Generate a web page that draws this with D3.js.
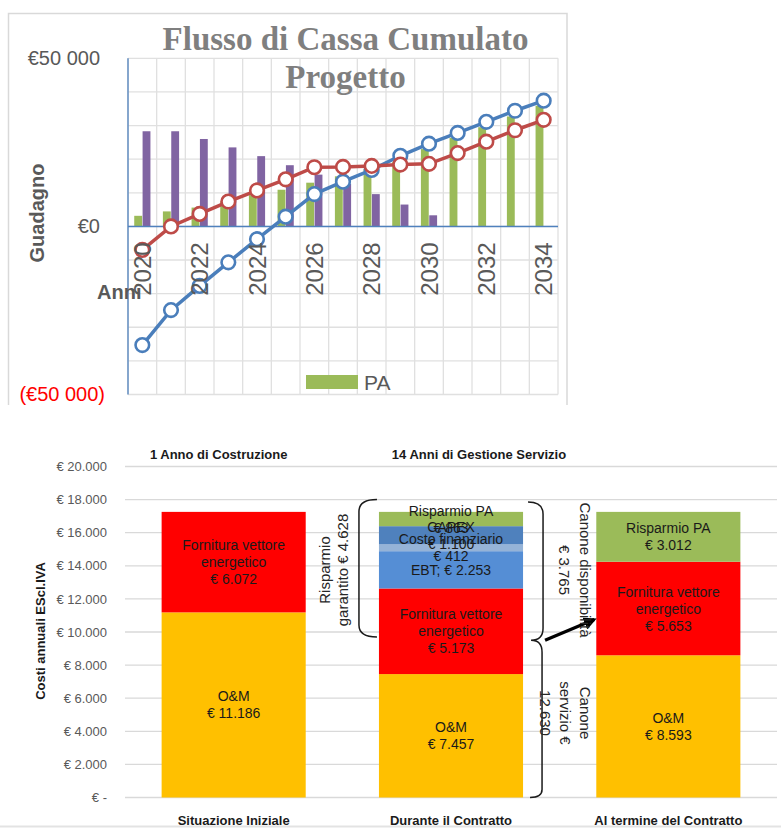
<!DOCTYPE html>
<html>
<head>
<meta charset="utf-8">
<script src="https://cdn.jsdelivr.net/npm/d3@7"></script>
<style>
  body { margin: 0; background: #fff; }
  svg text { font-family: "Liberation Sans", Arial, sans-serif; }
</style>
</head>
<body>
<svg id="chart" width="781" height="828"></svg>
<script>
// ---------- top chart data (cash flow) ----------
var years = [2020, 2021, 2022, 2023, 2024, 2025, 2026, 2027, 2028, 2029, 2030, 2031, 2032, 2033, 2034];
var paBars = [3150, 4460, 5600, 7400, 9300, 10900, 13000, 14900, 17000, 19200, 23000, 26300, 29500, 32700, 35900];
var escoBars = [28300, 28300, 26000, 23500, 20900, 18200, 15400, 12700, 9600, 6500, 3300, 0, 0, 0, 0];
var cumBlue = [-35300, -24900, -17700, -10700, -3800, 2900, 9600, 13300, 16800, 21000, 24600, 27800, 31100, 34400, 37400];
var cumRed = [-7000, 0, 3700, 7400, 10700, 14000, 17600, 17700, 18000, 18400, 18600, 21800, 25200, 28600, 31700];
var cashTicks = [-50000, 0, 50000];
var yearTicks = [2020, 2022, 2024, 2026, 2028, 2030, 2032, 2034];

// ---------- bottom chart data (annual costs) ----------
var costCats = ["Situazione Iniziale", "Durante il Contratto", "Al termine del Contratto"];
var omCost = [11186, 7457, 8593];
var fornituraCost = [6072, 5173, 5653];
var ebtCost = [0, 2253, 0];
var costoFinCost = [0, 412, 0];
var capexCost = [0, 1100, 0];
var risparmioPA = [0, 863, 3012];
var costTicks = [0, 2000, 4000, 6000, 8000, 10000, 12000, 14000, 16000, 18000, 20000];
var phaseLabels = ["1 Anno di Costruzione", "14 Anni di Gestione Servizio"];

var svg = d3.select("#chart");

var itFmt = d3.formatLocale({decimal: ",", thousands: ".", grouping: [3], currency: ["€ ", ""]});
var spFmt = d3.formatLocale({decimal: ",", thousands: "\u00a0", grouping: [3], currency: ["€", ""]});
var eur = itFmt.format("$,.0f");
var eurSp = spFmt.format("$,.0f");

//===================== TOP CHART =====================
var box = {left: 128, right: 558, top: 58.3, bottom: 394.5};

var x = d3.scaleBand().domain(years).range([box.left, box.right]).padding(0);
var x1 = d3.scaleBand().domain(["pa", "esco"]).range([x.bandwidth() * 0.2, x.bandwidth() * 0.8]).padding(0.06);
var y = d3.scaleLinear().domain([-50000, 50000]).range([box.bottom, box.top]);

// outer frame (no bottom edge, image is cut)
svg.append("path")
  .attr("d", "M8.5,405 V13.5 H567 V405")
  .attr("fill", "none")
  .attr("stroke", "#d9d9d9")
  .attr("stroke-width", 1.5);

var grid = svg.append("g").attr("class", "grid");
grid.selectAll(".hgrid")
  .data(d3.range(-50000, 50001, 10000))
  .enter().append("line")
    .attr("x1", box.left).attr("x2", box.right)
    .attr("y1", function(d) { return y(d); })
    .attr("y2", function(d) { return y(d); })
    .attr("stroke", "#e0e0e0").attr("stroke-width", 1.3);
grid.selectAll(".vgrid")
  .data(years.map(function(d) { return x(d); }).concat([box.right]))
  .enter().append("line")
    .attr("x1", function(d) { return d; }).attr("x2", function(d) { return d; })
    .attr("y1", box.top).attr("y2", box.bottom)
    .attr("stroke", "#e0e0e0").attr("stroke-width", 1.3);

// title
var title = svg.append("text")
  .attr("text-anchor", "middle")
  .style("font-family", "'Liberation Serif', 'DejaVu Serif', serif")
  .style("font-weight", "bold")
  .style("font-size", "33px")
  .attr("fill", "#7f7f7f");
title.append("tspan").attr("x", 345.5).attr("y", 49.5).text("Flusso di Cassa Cumulato");
title.append("tspan").attr("x", 345.5).attr("y", 87.5).text("Progetto");

// bars
var barG = svg.append("g");
barG.selectAll(".pa")
  .data(years)
  .enter().append("rect")
    .attr("x", function(d) { return x(d) + x1("pa"); })
    .attr("width", x1.bandwidth())
    .attr("y", function(d, i) { return y(paBars[i]); })
    .attr("height", function(d, i) { return y(0) - y(paBars[i]); })
    .attr("fill", "#9bbb59");
barG.selectAll(".esco")
  .data(years)
  .enter().append("rect")
    .attr("x", function(d) { return x(d) + x1("esco"); })
    .attr("width", x1.bandwidth())
    .attr("y", function(d, i) { return y(escoBars[i]); })
    .attr("height", function(d, i) { return y(0) - y(escoBars[i]); })
    .attr("fill", "#8064a2");

// axis lines
svg.append("line")
  .attr("x1", box.left).attr("x2", box.left)
  .attr("y1", box.top).attr("y2", box.bottom)
  .attr("stroke", "#4f81bd").attr("stroke-width", 1.3);
svg.append("line")
  .attr("x1", box.left).attr("x2", box.right)
  .attr("y1", y(0)).attr("y2", y(0))
  .attr("stroke", "#4f81bd").attr("stroke-width", 1.5);

// cumulative lines
function drawLine(vals, color) {
  var pts = years.map(function(d, i) { return [x(d) + x.bandwidth() / 2, y(vals[i])]; });
  svg.append("path")
    .attr("d", d3.line()(pts))
    .attr("fill", "none")
    .attr("stroke", color)
    .attr("stroke-width", 3.5);
  svg.append("g").selectAll("circle")
    .data(pts)
    .enter().append("circle")
      .attr("cx", function(d) { return d[0]; })
      .attr("cy", function(d) { return d[1]; })
      .attr("r", 6.8)
      .attr("fill", "#fff")
      .attr("stroke", color)
      .attr("stroke-width", 2.6);
}
drawLine(cumBlue, "#4a7ebb");
drawLine(cumRed, "#be4b48");

// y axis labels
var yAxis = svg.append("g")
  .attr("transform", "translate(" + box.left + ",0)")
  .call(d3.axisLeft(y).tickValues(cashTicks).tickSize(0).tickPadding(28)
    .tickFormat(function(d) { return d < 0 ? "(" + eurSp(-d) + ")" : eurSp(d); }));
yAxis.select(".domain").remove();
yAxis.selectAll("text")
  .style("font-size", "20px")
  .attr("fill", function(d) { return d < 0 ? "#ff0000" : "#595959"; })
  .attr("dx", function(d) { return d < 0 ? 5 : 0; });

// x axis labels (rotated)
var xAxis = svg.append("g")
  .attr("transform", "translate(0," + y(0) + ")")
  .call(d3.axisBottom(x).tickValues(yearTicks).tickSize(0));
xAxis.select(".domain").remove();
xAxis.selectAll("text")
  .style("font-size", "24px")
  .attr("fill", "#595959")
  .attr("transform", "rotate(-90)")
  .attr("x", -16)
  .attr("y", 0)
  .attr("dy", "0.36em")
  .style("text-anchor", "end");

// axis titles
svg.append("text")
  .attr("transform", "translate(44,213) rotate(-90)")
  .attr("text-anchor", "middle")
  .style("font-size", "20px").style("font-weight", "bold")
  .attr("fill", "#595959")
  .text("Guadagno");
svg.append("text")
  .attr("x", 97).attr("y", 298.5)
  .style("font-size", "20px").style("font-weight", "bold")
  .attr("fill", "#595959")
  .text("Anni");

// legend (partially visible)
svg.append("rect").attr("x", 306).attr("y", 375).attr("width", 52).attr("height", 14).attr("fill", "#9bbb59");
svg.append("text").attr("x", 364).attr("y", 390)
  .style("font-size", "21px").attr("fill", "#595959").text("PA");

//===================== BOTTOM CHART =====================
var bot = {left: 125, right: 777, top: 466.5, bottom: 797.5};

var xb = d3.scaleBand().domain(costCats).range([bot.left, bot.right])
  .paddingInner(0.337).paddingOuter(0.1685);
var yc = d3.scaleLinear().domain([0, 20000]).range([bot.bottom, bot.top]);

svg.append("g").selectAll("line")
  .data(costTicks)
  .enter().append("line")
    .attr("x1", bot.left).attr("x2", bot.right)
    .attr("y1", function(d) { return yc(d); })
    .attr("y2", function(d) { return yc(d); })
    .attr("stroke", "#d9d9d9").attr("stroke-width", 1.3);

var yAxisB = svg.append("g")
  .attr("transform", "translate(107,0)")
  .call(d3.axisLeft(yc).tickValues(costTicks).tickSize(0).tickPadding(0)
    .tickFormat(function(d) { return d === 0 ? "€ -" : eur(d); }));
yAxisB.select(".domain").remove();
yAxisB.selectAll("text").style("font-size", "13px").attr("fill", "#595959");

var segs = [
  {key: "om", vals: omCost, color: "#ffc000", label: function(v) { return ["O&M", eur(v)]; }},
  {key: "forn", vals: fornituraCost, color: "#ff0000", label: function(v) { return ["Fornitura vettore", "energetico", eur(v)]; }},
  {key: "ebt", vals: ebtCost, color: "#558ed5", label: function(v) { return ["EBT; " + eur(v)]; }},
  {key: "cf", vals: costoFinCost, color: "#95b3d7", label: function(v) { return ["Costo finanziario", eur(v)]; }},
  {key: "capex", vals: capexCost, color: "#4f81bd", label: function(v) { return ["CAPEX", eur(v)]; }},
  {key: "rpa", vals: risparmioPA, color: "#9bbb59", label: function(v) { return ["Risparmio PA", eur(v)]; }}
];

var rows = costCats.map(function(c, i) {
  var r = {cat: c};
  segs.forEach(function(s) { r[s.key] = s.vals[i]; });
  return r;
});
var stacked = d3.stack().keys(segs.map(function(s) { return s.key; }))(rows);

var segG = svg.append("g");
stacked.forEach(function(layer, li) {
  segG.append("g").selectAll("rect")
    .data(layer)
    .enter().append("rect")
      .attr("x", function(d) { return xb(d.data.cat); })
      .attr("width", xb.bandwidth())
      .attr("y", function(d) { return yc(d[1]); })
      .attr("height", function(d) { return yc(d[0]) - yc(d[1]); })
      .attr("fill", segs[li].color);
});

// segment labels
var lblG = svg.append("g");
stacked.forEach(function(layer, li) {
  layer.forEach(function(d) {
    var v = d[1] - d[0];
    if (v <= 0) return;
    var lines = segs[li].label(v);
    var cy = (yc(d[0]) + yc(d[1])) / 2;
    var t = lblG.append("text")
      .attr("text-anchor", "middle")
      .style("font-size", "14px")
      .attr("fill", "#1a1a1a");
    lines.forEach(function(l, k) {
      t.append("tspan")
        .attr("x", xb(d.data.cat) + xb.bandwidth() / 2)
        .attr("y", cy + (k - (lines.length - 1) / 2) * 17 + 5)
        .text(l);
    });
  });
});

// phase headers
svg.append("text")
  .attr("x", xb(costCats[0]) + xb.bandwidth() / 2 - 15).attr("y", 459)
  .attr("text-anchor", "middle")
  .style("font-size", "13px").style("font-weight", "bold").attr("fill", "#1a1a1a")
  .text(phaseLabels[0]);
svg.append("text")
  .attr("x", xb(costCats[1]) + xb.bandwidth() / 2 + 28).attr("y", 459)
  .attr("text-anchor", "middle")
  .style("font-size", "13px").style("font-weight", "bold").attr("fill", "#1a1a1a")
  .text(phaseLabels[1]);

// category labels
svg.append("g").selectAll("text")
  .data(costCats)
  .enter().append("text")
    .attr("x", function(d) { return xb(d) + xb.bandwidth() / 2; })
    .attr("y", 825)
    .attr("text-anchor", "middle")
    .style("font-size", "13px").style("font-weight", "bold").attr("fill", "#1a1a1a")
    .text(function(d) { return d; });

// y title
svg.append("text")
  .attr("transform", "translate(45,631) rotate(-90)")
  .attr("text-anchor", "middle")
  .style("font-size", "13px").style("font-weight", "bold").attr("fill", "#1a1a1a")
  .text("Costi annuali EScl.IVA");

// ---- annotations: braces, arrow, rotated notes ----
var b2 = xb(costCats[1]), b2r = b2 + xb.bandwidth(), b3 = xb(costCats[2]);
var canoneServ = omCost[1] + fornituraCost[1];
var canoneDisp = ebtCost[1] + costoFinCost[1] + capexCost[1];
var rispGarantito = canoneDisp + risparmioPA[1];

var lt = yc(18000), lb = yc(9700);
svg.append("path")
  .attr("d", "M" + (b2 - 2) + "," + lt + " Q" + (b2 - 20) + "," + lt + " " + (b2 - 20) + "," + (lt + 12) +
             " V" + (lb - 12) + " Q" + (b2 - 20) + "," + lb + " " + (b2 - 2) + "," + lb)
  .attr("fill", "none").attr("stroke", "#1a1a1a").attr("stroke-width", 1.5);

var rt = yc(17850), rm = yc(9500), rb = yc(0);
svg.append("path")
  .attr("d", "M" + (b2r + 5) + "," + rt + " Q" + (b2r + 20) + "," + rt + " " + (b2r + 20) + "," + (rt + 12) +
             " V" + (rm - 12) + " Q" + (b2r + 20) + "," + rm + " " + (b2r + 8) + "," + rm +
             " Q" + (b2r + 19) + "," + rm + " " + (b2r + 19) + "," + (rm + 12) +
             " V" + (rb - 8) + " Q" + (b2r + 19) + "," + rb + " " + (b2r + 7) + "," + rb)
  .attr("fill", "none").attr("stroke", "#1a1a1a").attr("stroke-width", 1.5);

svg.append("defs").append("marker")
  .attr("id", "arrow").attr("viewBox", "0 0 10 10")
  .attr("refX", 8).attr("refY", 5)
  .attr("markerWidth", 4).attr("markerHeight", 4)
  .attr("orient", "auto")
  .append("path").attr("d", "M0,0 L10,5 L0,10 z").attr("fill", "#000");
svg.append("line")
  .attr("x1", b2r + 22).attr("y1", rm)
  .attr("x2", b3 - 2).attr("y2", yc(10750))
  .attr("stroke", "#000").attr("stroke-width", 3.2)
  .attr("marker-end", "url(#arrow)");

function noteText(tx, ty, rot, lines, gap) {
  var t = svg.append("text")
    .attr("transform", "translate(" + tx + "," + ty + ") rotate(" + rot + ")")
    .attr("text-anchor", "middle")
    .style("font-size", "15px").attr("fill", "#262626");
  lines.forEach(function(l, k) {
    t.append("tspan").attr("x", 0).attr("y", k * gap).text(l);
  });
}
noteText(330, 570, -90, ["Risparmio", "garantito " + eur(rispGarantito)], 18);
noteText(580, 570, 90, ["Canone disponibilità", eur(canoneDisp)], 21);
noteText(580, 713, 90, ["Canone", "servizio €", itFmt.format(",.0f")(canoneServ)], 20);

// bottom border of the page
svg.append("line").attr("x1", 0).attr("x2", 781).attr("y1", 826.5).attr("y2", 826.5)
  .attr("stroke", "#e3e3e3").attr("stroke-width", 2);
</script>
</body>
</html>
